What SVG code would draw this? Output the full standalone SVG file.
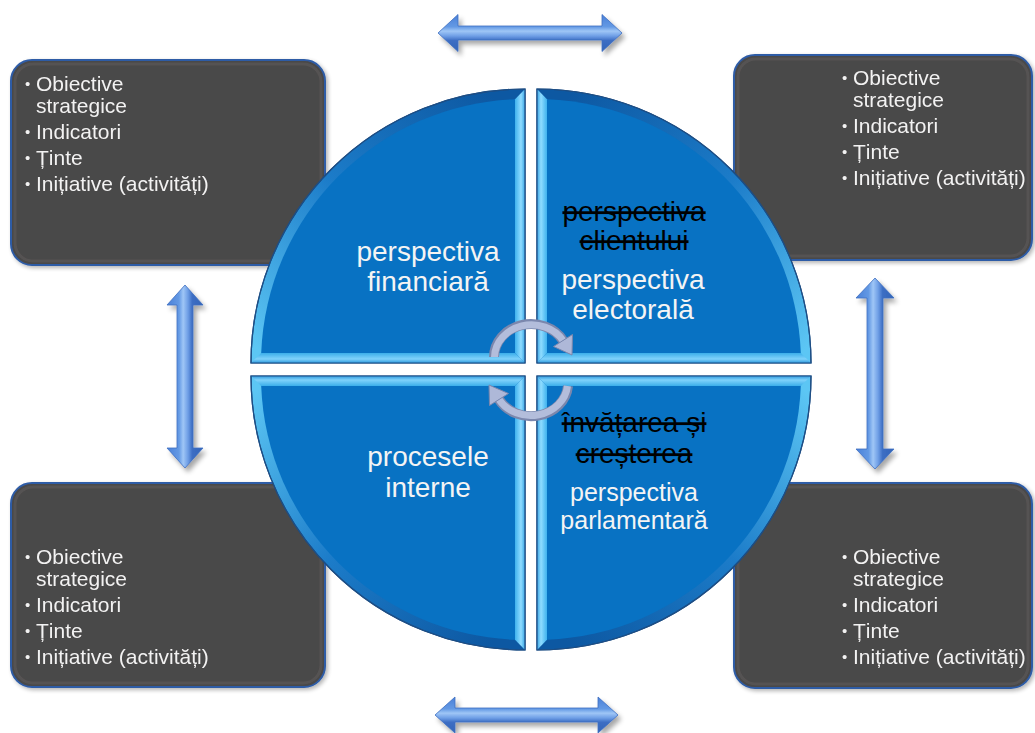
<svg xmlns="http://www.w3.org/2000/svg" xmlns:xlink="http://www.w3.org/1999/xlink" width="1035" height="733" viewBox="0 0 1035 733">
<style>
  .box { fill: #4a4848; stroke: #2e5ca6; stroke-width: 2; }
  .boxin { fill: none; stroke: #5e5c5c; stroke-width: 3; opacity: 0.6; }
  .bt { font-family: "Liberation Sans", Arial, sans-serif; font-size: 21px; fill: #f2f2f2; }
  .bu { font-family: "Liberation Sans", Arial, sans-serif; font-size: 15px; fill: #f2f2f2; }
  .qt { font-family: "Liberation Sans", Arial, sans-serif; font-size: 28px; fill: #f4f4f4; text-anchor: middle; }
  .qs { font-family: "Liberation Sans", Arial, sans-serif; font-size: 28px; fill: #000000; text-anchor: middle; text-decoration: line-through; }
  .qsm { font-family: "Liberation Sans", Arial, sans-serif; font-size: 25px; fill: #f4f4f4; text-anchor: middle; }
  .darr { stroke: #3f6fc0; stroke-width: 0.8; }
  .carc-o { fill: none; stroke: #7b87ad; stroke-width: 10; }
  .carc-i { fill: none; stroke: #b3bddb; stroke-width: 7; }
  .chead { fill: #aeb8d8; stroke: #7b87ad; stroke-width: 1; }
</style>
<defs>
  <filter id="shadow" x="-20%" y="-20%" width="140%" height="140%">
    <feGaussianBlur in="SourceAlpha" stdDeviation="2.5"/>
    <feOffset dx="3" dy="4" result="b"/>
    <feComponentTransfer><feFuncA type="linear" slope="0.35"/></feComponentTransfer>
    <feMerge><feMergeNode/><feMergeNode in="SourceGraphic"/></feMerge>
  </filter>
  <filter id="bshadow" x="-10%" y="-10%" width="120%" height="120%">
    <feGaussianBlur in="SourceAlpha" stdDeviation="2"/>
    <feOffset dx="2" dy="2" result="b"/>
    <feComponentTransfer><feFuncA type="linear" slope="0.3"/></feComponentTransfer>
    <feMerge><feMergeNode/><feMergeNode in="SourceGraphic"/></feMerge>
  </filter>
  <linearGradient id="hgrad" x1="0" y1="0" x2="0" y2="1">
    <stop offset="0" stop-color="#4a80d8"/>
    <stop offset="0.33" stop-color="#6399e4"/>
    <stop offset="0.45" stop-color="#9fc6f6"/>
    <stop offset="0.58" stop-color="#6f9fe6"/>
    <stop offset="0.7" stop-color="#3c6ec4"/>
    <stop offset="1" stop-color="#3465b8"/>
  </linearGradient>
  <linearGradient id="vgrad" x1="0" y1="0" x2="1" y2="0">
    <stop offset="0" stop-color="#4a80d8"/>
    <stop offset="0.33" stop-color="#6399e4"/>
    <stop offset="0.45" stop-color="#9fc6f6"/>
    <stop offset="0.58" stop-color="#6f9fe6"/>
    <stop offset="0.7" stop-color="#3c6ec4"/>
    <stop offset="1" stop-color="#3465b8"/>
  </linearGradient>
  <linearGradient id="bevel" gradientUnits="userSpaceOnUse" x1="-40" y1="-274" x2="-274" y2="-20">
    <stop offset="0" stop-color="#0d58a2"/>
    <stop offset="0.5" stop-color="#1c7cc9"/>
    <stop offset="1" stop-color="#5cc6f4"/>
  </linearGradient>
  <linearGradient id="stripV" gradientUnits="userSpaceOnUse" x1="0" y1="0" x2="-10" y2="0">
    <stop offset="0" stop-color="#3aa6e6"/>
    <stop offset="0.4" stop-color="#8fdcff"/>
    <stop offset="1" stop-color="#3fb2ee"/>
  </linearGradient>
  <linearGradient id="stripH" gradientUnits="userSpaceOnUse" x1="0" y1="0" x2="0" y2="-10">
    <stop offset="0" stop-color="#2f9ade"/>
    <stop offset="0.4" stop-color="#7fd2fb"/>
    <stop offset="1" stop-color="#3aaeea"/>
  </linearGradient>
  <g id="quad">
    <path d="M0,0 L-274,0 A274,274 0 0 1 0,-274 Z" fill="url(#bevel)" stroke="#1d4e85" stroke-width="1.2"/>
    <path d="M0,-274 L0,0 L-10,-10 L-10,-263.8 Z" fill="url(#stripV)"/>
    <path d="M-274,0 L0,0 L-10,-10 L-263.8,-10 Z" fill="url(#stripH)"/>
    <path d="M-10,-10 L-263.8,-10 A264,264 0 0 1 -10,-263.8 Z" fill="#0872c3"/>
    <path d="M0,0 L-274,0 A274,274 0 0 1 0,-274 Z" fill="none" stroke="#1d4e85" stroke-width="1.2"/>
  </g>
</defs>

<rect x="0" y="0" width="1035" height="733" fill="#ffffff"/>

<!-- boxes -->
<g id="box-tl" filter="url(#bshadow)">
  <rect class="box" x="11" y="60" width="314" height="205" rx="21"/>
  <rect class="boxin" x="15" y="64" width="306" height="197" rx="18"/>
  <text class="bu" x="25" y="89">•</text><text class="bt" x="36" y="91">Obiective</text>
  <text class="bt" x="36" y="113">strategice</text>
  <text class="bu" x="25" y="137">•</text><text class="bt" x="36" y="139">Indicatori</text>
  <text class="bu" x="25" y="163">•</text><text class="bt" x="36" y="165">Ținte</text>
  <text class="bu" x="25" y="189">•</text><text class="bt" x="36" y="191">Inițiative (activități)</text>
</g>
<g id="box-tr" filter="url(#bshadow)">
  <rect class="box" x="734" y="55" width="298" height="205" rx="21"/>
  <rect class="boxin" x="738" y="59" width="290" height="197" rx="18"/>
  <text class="bu" x="842" y="83">•</text><text class="bt" x="853" y="85">Obiective</text>
  <text class="bt" x="853" y="107">strategice</text>
  <text class="bu" x="842" y="131">•</text><text class="bt" x="853" y="133">Indicatori</text>
  <text class="bu" x="842" y="157">•</text><text class="bt" x="853" y="159">Ținte</text>
  <text class="bu" x="842" y="183">•</text><text class="bt" x="853" y="185">Inițiative (activități)</text>
</g>
<g id="box-bl" filter="url(#bshadow)">
  <rect class="box" x="11" y="483" width="314" height="204" rx="21"/>
  <rect class="boxin" x="15" y="487" width="306" height="196" rx="18"/>
  <text class="bu" x="25" y="562">•</text><text class="bt" x="36" y="564">Obiective</text>
  <text class="bt" x="36" y="586">strategice</text>
  <text class="bu" x="25" y="610">•</text><text class="bt" x="36" y="612">Indicatori</text>
  <text class="bu" x="25" y="636">•</text><text class="bt" x="36" y="638">Ținte</text>
  <text class="bu" x="25" y="662">•</text><text class="bt" x="36" y="664">Inițiative (activități)</text>
</g>
<g id="box-br" filter="url(#bshadow)">
  <rect class="box" x="734" y="483" width="298" height="205" rx="21"/>
  <rect class="boxin" x="738" y="487" width="290" height="197" rx="18"/>
  <text class="bu" x="842" y="562">•</text><text class="bt" x="853" y="564">Obiective</text>
  <text class="bt" x="853" y="586">strategice</text>
  <text class="bu" x="842" y="610">•</text><text class="bt" x="853" y="612">Indicatori</text>
  <text class="bu" x="842" y="636">•</text><text class="bt" x="853" y="638">Ținte</text>
  <text class="bu" x="842" y="662">•</text><text class="bt" x="853" y="664">Inițiative (activități)</text>
</g>

<!-- quadrants -->
<g id="q-financiara">
  <use xlink:href="#quad" href="#quad" transform="translate(525,363)"/>
  <text class="qt" x="428" y="261">perspectiva</text>
  <text class="qt" x="428" y="291">financiară</text>
</g>
<g id="q-electorala">
  <use xlink:href="#quad" href="#quad" transform="translate(537,363) scale(-1,1)"/>
  <text class="qs" x="634" y="221">perspectiva</text>
  <text class="qs" x="634" y="250">clientului</text>
  <text class="qt" x="633" y="289">perspectiva</text>
  <text class="qt" x="633" y="319">electorală</text>
</g>
<g id="q-procese">
  <use xlink:href="#quad" href="#quad" transform="translate(525,376) scale(1,-1)"/>
  <text class="qt" x="428" y="466">procesele</text>
  <text class="qt" x="428" y="497">interne</text>
</g>
<g id="q-parlamentara">
  <use xlink:href="#quad" href="#quad" transform="translate(537,376) scale(-1,-1)"/>
  <text class="qs" x="634" y="432">învățarea și</text>
  <text class="qs" x="634" y="463">creșterea</text>
  <text class="qsm" x="634" y="501">perspectiva</text>
  <text class="qsm" x="634" y="529">parlamentară</text>
</g>

<!-- connectors -->
<g id="connectors">
  <g filter="url(#shadow)">
    <path class="darr" fill="url(#hgrad)" d="M438,33 L458,14.5 L458,26 L602,26 L602,14.5 L622,33 L602,51.5 L602,40 L458,40 L458,51.5 Z"/>
    <path class="darr" fill="url(#hgrad)" d="M435,715 L455,697 L455,708 L598,708 L598,697 L618,715 L598,733 L598,722 L455,722 L455,733 Z"/>
    <path class="darr" fill="url(#vgrad)" d="M185,285 L203,305 L193,305 L193,448 L203,448 L185,468 L167,448 L177,448 L177,305 L167,305 Z"/>
    <path class="darr" fill="url(#vgrad)" d="M875,278 L894,298 L883,298 L883,449 L894,449 L875,469 L856,449 L867,449 L867,298 L856,298 Z"/>
  </g>
  <g id="cycle">
    <path class="carc-o" d="M494,357 A37,33 0 0 1 563,340.5"/>
    <path class="carc-i" d="M494.5,357 A37,33 0 0 1 563,340.5"/>
    <polygon class="chead" points="572,355 572.5,334.5 553.5,346.5"/>
    <path class="carc-o" d="M568,386 A37,33 0 0 1 499,399.5"/>
    <path class="carc-i" d="M567.5,386 A37,33 0 0 1 499,399.5"/>
    <polygon class="chead" points="489,385 489.5,405.5 508.5,393.5"/>
  </g>
</g>
</svg>
